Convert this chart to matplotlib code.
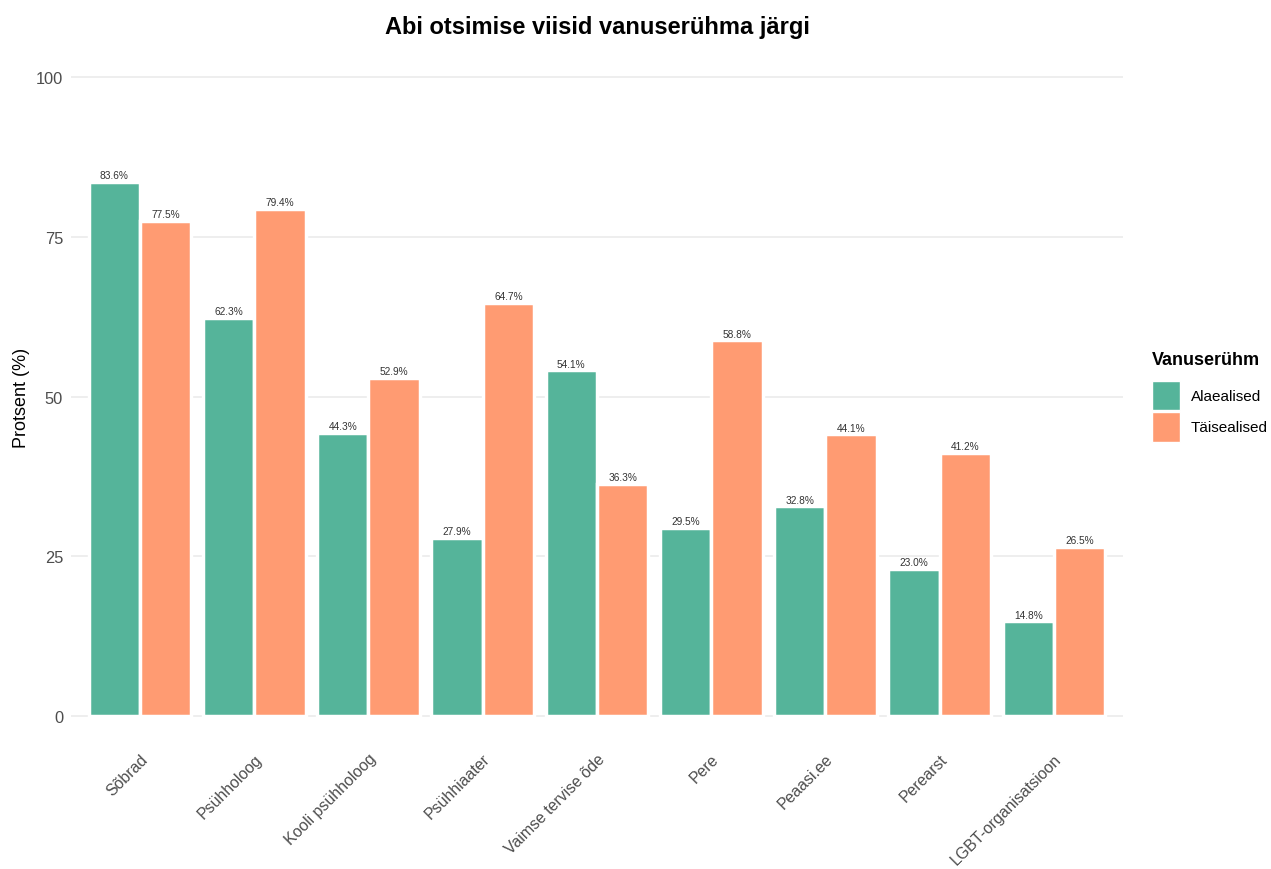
import numpy as np
import matplotlib
matplotlib.use('Agg')
import matplotlib.pyplot as plt
from matplotlib.patches import Patch

categories = ['Sõbrad', 'Psühholoog', 'Kooli psühholoog', 'Psühhiaater',
              'Vaimse tervise õde', 'Pere', 'Peaasi.ee', 'Perearst', 'LGBT-organisatsioon']
alaealised = [83.6, 62.3, 44.3, 27.9, 54.1, 29.5, 32.8, 23.0, 14.8]
taisealised = [77.5, 79.4, 52.9, 64.7, 36.3, 58.8, 44.1, 41.2, 26.5]
groups = ['Alaealised', 'Täisealised']
colors = ['#55B49A', '#FF9B72']

plt.rcParams['font.family'] = ['Liberation Sans', 'DejaVu Sans']

fig = plt.figure(figsize=(12.71, 8.7), dpi=100)
ax = fig.add_axes([0.0562, 0.1391, 0.8270, 0.8080])

x = np.arange(len(categories))
w = 0.45
for i, (vals, col) in enumerate(zip([alaealised, taisealised], colors)):
    pos = x + (i - 0.5) * w
    ax.bar(pos, vals, width=w, color=col, edgecolor='white', linewidth=2.5, zorder=2)
    for p, v in zip(pos, vals):
        ax.annotate(f'{v:.1f}%', (p, v), xytext=(0, 1.2), textcoords='offset points',
                    ha='center', va='bottom', fontsize=7.3, color='#333333')

ax.set_xlim(-0.6, len(categories) - 0.4)
ax.set_ylim(-5, 105)
ax.set_yticks([0, 25, 50, 75, 100])
ax.set_xticks(x)
ax.set_xticklabels(categories, rotation=45, ha='right', rotation_mode='anchor')
ax.tick_params(axis='both', length=0, labelsize=11.8, colors='#4D4D4D')
ax.tick_params(axis='x', pad=2, labelsize=11.4)
ax.tick_params(axis='y', pad=6)
ax.grid(axis='y', color='#EBEBEB', linewidth=1.2, zorder=0)
ax.set_axisbelow(True)
for s in ax.spines.values():
    s.set_visible(False)

ax.set_ylabel('Protsent (%)', fontsize=13, color='black')
ax.yaxis.set_label_coords(-0.039, 0.5)
ax.set_title('Abi otsimise viisid vanuserühma järgi', fontsize=17, fontweight='bold', pad=9)

handles = [Patch(facecolor=c, edgecolor='white', label=g) for c, g in zip(colors, groups)]
leg = ax.legend(handles=handles, title='Vanuserühm', loc='center left',
                bbox_to_anchor=(1.015, 0.5), frameon=False, fontsize=11,
                title_fontproperties={'weight': 'bold', 'size': 13},
                handlelength=1.85, handleheight=2.6, handletextpad=0.7, labelspacing=0.1)
leg._legend_box.align = 'left'
leg._legend_box.sep = 9

fig.savefig('out.png', dpi=100)
